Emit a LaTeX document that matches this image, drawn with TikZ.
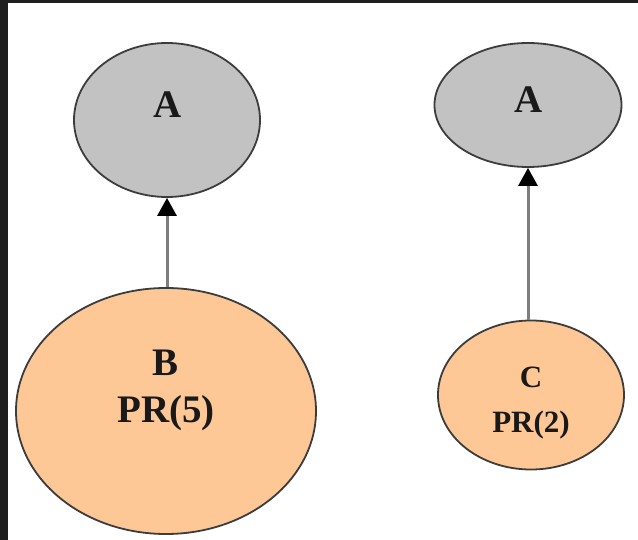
\documentclass[tikz,border=0pt]{standalone}
\usepackage{fontspec}
\setmainfont{Liberation Serif}
\usetikzlibrary{shapes.geometric,arrows.meta}
\definecolor{frame}{HTML}{1E1E1E}
\definecolor{grayfill}{HTML}{C2C2C2}
\definecolor{peach}{HTML}{FDC895}
\definecolor{rim}{HTML}{3C3C3C}
\definecolor{stem}{HTML}{7E7E7E}
\tikzset{
  blob/.style={ellipse, draw=rim, line width=1.8pt, inner sep=0pt},
  grayblob/.style={blob, fill=grayfill},
  peachblob/.style={blob, fill=peach},
  bigtxt/.style={font=\bfseries\fontsize{39}{42}\selectfont, text=black!90, inner sep=0pt, anchor=base},
  smalltxt/.style={font=\bfseries\fontsize{31}{34}\selectfont, text=black!90, inner sep=0pt, anchor=base},
  link/.style={draw=stem, line width=3pt, -{Triangle[length=18pt,width=19pt,color=black]}}
}
\begin{document}
\begin{tikzpicture}[x=1pt,y=-1pt]
  \useasboundingbox (0,0) rectangle (638,540);
  \fill[frame] (0,0) rectangle (638,540);
  \fill[white] (8,3) rectangle (638,540);

  % left pair
  \node[grayblob, minimum width=186pt, minimum height=154pt] (a1) at (167,120) {};
  \node[peachblob, minimum width=300pt, minimum height=246pt] (b) at (166,411) {};
  \node[bigtxt] (a1txt) at (168,118) {A};
  \node[bigtxt] (btxt) at (166,376) {B};
  \node[bigtxt] (bpr) at (166,423) {PR(5)};
  \draw[link] (b.north -| a1.south) -- (a1.south);

  % right pair
  \node[grayblob, minimum width=187pt, minimum height=124pt] (a2) at (528,105) {};
  \node[peachblob, minimum width=186pt, minimum height=149pt] (c) at (531,395) {};
  \node[bigtxt] (a2txt) at (529,113) {A};
  \node[smalltxt] (ctxt) at (531,388) {C};
  \node[smalltxt] (cpr) at (531,432) {PR(2)};
  \draw[link] (c.north -| a2.south) -- (a2.south);
\end{tikzpicture}
\end{document}
